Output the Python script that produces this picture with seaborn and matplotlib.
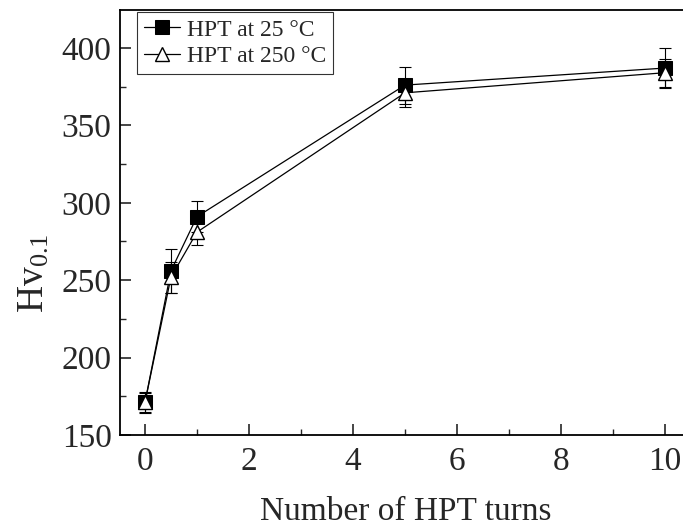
import numpy as np
import pandas as pd
import matplotlib
matplotlib.use('Agg')
import matplotlib.pyplot as plt
import seaborn as sns
from matplotlib.ticker import MultipleLocator

# Hardness vs HPT turns
turns = [0, 0.5, 1, 5, 10]
hv_25 = [171, 256, 291, 376, 387]
err_25 = [7, 14, 10, 12, 13]
hv_250 = [171, 252, 281, 371, 384]
err_250 = [6, 10, 8, 9, 9]
labels = ['HPT at 25 °C', 'HPT at 250 °C']

df = pd.DataFrame({
    'turns': turns * 2,
    'hv': hv_25 + hv_250,
    'err': err_25 + err_250,
    'series': [labels[0]] * len(turns) + [labels[1]] * len(turns),
})

sns.set_style('ticks')
plt.rcParams['font.family'] = ['Liberation Serif', 'DejaVu Serif']
plt.rcParams['mathtext.fontset'] = 'custom'
plt.rcParams['mathtext.rm'] = 'Liberation Serif'
plt.rcParams['mathtext.it'] = 'Liberation Serif:italic'

fig = plt.figure(figsize=(6.83, 5.29), dpi=100)
ax = fig.add_axes([0.1757, 0.1777, 0.836, 0.8034])

# error bars first, under the markers
for lab in labels:
    sub = df[df['series'] == lab]
    ax.errorbar(sub['turns'], sub['hv'], yerr=sub['err'], fmt='none',
                ecolor='black', elinewidth=0.8, capsize=4.5, capthick=0.8, zorder=1)

sns.lineplot(data=df, x='turns', y='hv', hue='series', style='series',
             markers={labels[0]: 's', labels[1]: '^'}, dashes=False,
             palette={labels[0]: 'black', labels[1]: 'black'},
             linewidth=0.9, markersize=10, ax=ax, zorder=3)

# open triangles for 250 °C
for line in ax.lines:
    if line.get_marker() == '^':
        line.set_markerfacecolor('white')
        line.set_markeredgecolor('black')
        line.set_markeredgewidth(1.0)
    elif line.get_marker() == 's':
        line.set_markerfacecolor('black')
        line.set_markeredgecolor('black')

ax.set_xlim(-0.48, 10.5)
ax.set_ylim(150, 424.5)
ax.xaxis.set_major_locator(MultipleLocator(2))
ax.xaxis.set_minor_locator(MultipleLocator(1))
ax.yaxis.set_major_locator(MultipleLocator(50))
ax.yaxis.set_minor_locator(MultipleLocator(25))
ax.tick_params(which='major', direction='in', length=8, width=1.2, labelsize=24, pad=8)
ax.tick_params(axis='y', which='major', pad=6)
ax.tick_params(which='minor', direction='in', length=4.5, width=1.0)
for s in ax.spines.values():
    s.set_linewidth(1.3)
    s.set_color('black')

ax.set_xlabel('Number of HPT turns', fontsize=24)
ax.xaxis.set_label_coords(0.5, -0.145)
ax.set_ylabel('Hv$_{\\mathrm{0.1}}$', fontsize=27)
ax.yaxis.set_label_coords(-0.12, 0.38)

leg = ax.legend(loc='upper left', bbox_to_anchor=(0.03, 0.995), fontsize=17,
                frameon=True, fancybox=False, edgecolor='black',
                handlelength=1.5, handletextpad=0.3, borderpad=0.3,
                labelspacing=0.2, borderaxespad=0.0)
leg.get_frame().set_linewidth(0.8)
leg.set_title(None)

fig.savefig('out.png', dpi=100)
